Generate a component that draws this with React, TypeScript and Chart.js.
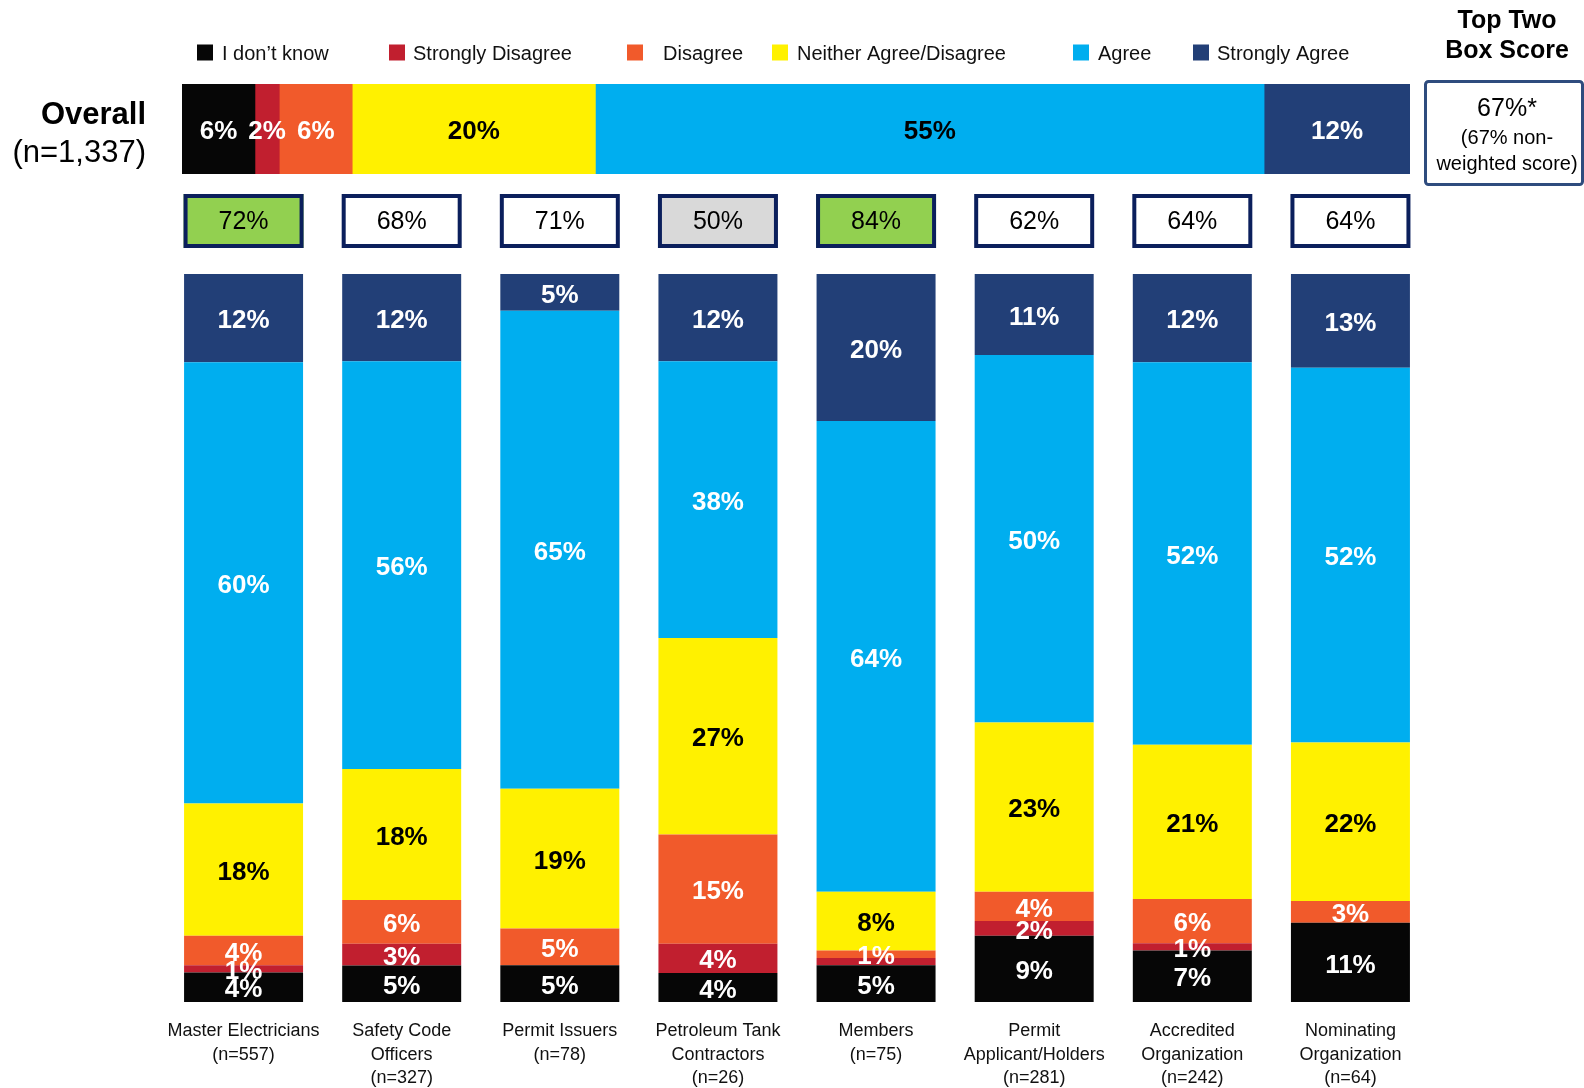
import React, { useEffect, useRef } from "react";
import { Chart, registerables } from "chart.js";

Chart.register(...registerables);

const FONT = "'Liberation Sans', Arial, sans-serif";

// ---- data ----
const seriesNames = [
  "I don\u2019t know",
  "Strongly Disagree",
  "Disagree",
  "Neither Agree/Disagree",
  "Agree",
  "Strongly Agree",
];
const seriesColors = ["#060606", "#c11f2f", "#f15a2b", "#fff100", "#00aeef", "#223f77"];
const columnLabelColors = ["#ffffff", "#ffffff", "#ffffff", "#000000", "#ffffff", "#ffffff"];
const overallLabelColors = ["#ffffff", "#ffffff", "#ffffff", "#000000", "#000000", "#ffffff"];

const categories = [
  ["Master Electricians", "(n=557)"],
  ["Safety Code", "Officers", "(n=327)"],
  ["Permit Issuers", "(n=78)"],
  ["Petroleum Tank", "Contractors", "(n=26)"],
  ["Members", "(n=75)"],
  ["Permit", "Applicant/Holders", "(n=281)"],
  ["Accredited", "Organization", "(n=242)"],
  ["Nominating", "Organization", "(n=64)"],
];

const dontKnow = [4, 5, 5, 4, 5, 9, 7, 11];
const stronglyDisagree = [1, 3, 0, 4, 1, 2, 1, 0];
const disagree = [4, 6, 5, 15, 1, 4, 6, 3];
const neither = [18, 18, 19, 27, 8, 23, 21, 22];
const agree = [60, 56, 65, 38, 64, 50, 52, 52];
const stronglyAgree = [12, 12, 5, 12, 20, 11, 12, 13];

const overallTitle = "Overall";
const overallN = "(n=1,337)";
const overallValues = [6, 2, 6, 20, 55, 12];

const topTwoScores = [72, 68, 71, 50, 84, 62, 64, 64];
const topTwoBand = ["above", "par", "par", "below", "above", "par", "par", "par"];
const bandFill: Record<string, string> = { above: "#92d050", par: "#ffffff", below: "#d9d9d9" };

const topTwoTitle = ["Top Two", "Box Score"];
const overallTopTwo = "67%*";
const overallTopTwoNote = ["(67% non-", "weighted score)"];

// labels not shown (series index, category index)
const hiddenLabels = [[1, 4]];

const columnSeries = [dontKnow, stronglyDisagree, disagree, neither, agree, stronglyAgree];

function totalsOf(series: number[][]) {
  return series[0].map((_, c) => series.reduce((s, arr) => s + arr[c], 0));
}

const labelPlugin = (colors: string[], hidden: number[][]) => ({
  id: "segLabels",
  afterDatasetsDraw(chart: any) {
    const ctx = chart.ctx;
    ctx.save();
    ctx.font = `bold 26px ${FONT}`;
    ctx.textAlign = "center";
    ctx.textBaseline = "middle";
    chart.data.datasets.forEach((ds: any, i: number) => {
      const meta = chart.getDatasetMeta(i);
      meta.data.forEach((el: any, j: number) => {
        const raw = ds.raw[j];
        if (!raw) return;
        if (hidden.some((h) => h[0] === i && h[1] === j)) return;
        const p = el.getCenterPoint();
        ctx.fillStyle = colors[i];
        ctx.fillText(raw + "%", p.x, p.y + 3);
      });
    });
    ctx.restore();
  },
});

const decorPlugin = {
  id: "decor",
  afterDraw(chart: any) {
    const ctx = chart.ctx;
    ctx.save();
    // legend
    const sq = [197, 389, 627, 772, 1073, 1193];
    const tx = [222, 413, 663, 797, 1098, 1217];
    ctx.font = `20px ${FONT}`;
    ctx.textBaseline = "middle";
    ctx.textAlign = "left";
    seriesNames.forEach((n, i) => {
      ctx.fillStyle = seriesColors[i];
      ctx.fillRect(sq[i], 44.5, 16, 16);
      ctx.fillStyle = "#111";
      ctx.fillText(n, tx[i], 54);
    });
    // top two title
    ctx.font = `bold 25px ${FONT}`;
    ctx.textAlign = "center";
    ctx.fillStyle = "#000";
    ctx.fillText(topTwoTitle[0], 1507, 21);
    ctx.fillText(topTwoTitle[1], 1507, 51);
    // overall title
    ctx.textAlign = "right";
    ctx.font = `bold 31px ${FONT}`;
    ctx.fillText(overallTitle, 146, 115);
    ctx.font = `31px ${FONT}`;
    ctx.fillText(overallN, 146, 153);
    // overall top two box
    ctx.strokeStyle = "#2f4c7e";
    ctx.lineWidth = 3;
    ctx.beginPath();
    ctx.roundRect(1425.5, 81.5, 157, 103, 3);
    ctx.stroke();
    ctx.textAlign = "center";
    ctx.fillStyle = "#000";
    ctx.font = `25px ${FONT}`;
    ctx.fillText(overallTopTwo, 1507, 109);
    ctx.font = `20px ${FONT}`;
    ctx.fillText(overallTopTwoNote[0], 1507, 138);
    ctx.fillText(overallTopTwoNote[1], 1507, 164);
    // small boxes
    const xs = chart.scales.x;
    topTwoScores.forEach((v, i) => {
      const cx = xs.getPixelForValue(i);
      const w = 120;
      const x0 = cx - w / 2;
      ctx.fillStyle = bandFill[topTwoBand[i]];
      ctx.fillRect(x0, 194, w, 54);
      ctx.strokeStyle = "#0b1f5c";
      ctx.lineWidth = 4;
      ctx.strokeRect(x0 + 2, 196, w - 4, 50);
      ctx.fillStyle = "#000";
      ctx.font = `25px ${FONT}`;
      ctx.fillText(v + "%", cx, 222.5);
    });
    ctx.restore();
  },
};

export default function App() {
  const mainRef = useRef<HTMLCanvasElement>(null);
  const overallRef = useRef<HTMLCanvasElement>(null);

  useEffect(() => {
    Chart.defaults.font.family = FONT;
    const totals = totalsOf(columnSeries);
    const main = new Chart(mainRef.current!, {
      type: "bar",
      data: {
        labels: categories,
        datasets: columnSeries.map((vals, s) => ({
          label: seriesNames[s],
          data: vals.map((v, c) => (v / totals[c]) * 100),
          raw: vals,
          backgroundColor: seriesColors[s],
          borderWidth: 0,
          barPercentage: 0.7525,
          categoryPercentage: 1,
        })) as any,
      },
      options: {
        responsive: false,
        animation: false,
        layout: { padding: { left: 164.5, right: 154.5, top: 274, bottom: 0 } },
        plugins: { legend: { display: false }, tooltip: { enabled: false } },
        scales: {
          x: {
            stacked: true,
            grid: { display: false, drawTicks: false },
            border: { display: false },
            ticks: {
              padding: 17,
              color: "#111",
              font: { size: 18, lineHeight: 1.32, family: FONT },
              maxRotation: 0,
              autoSkip: false,
            },
            afterFit: (scale: any) => {
              scale.height = 86;
            },
          },
          y: { stacked: true, display: false, min: 0, max: 100 },
        },
      },
      plugins: [labelPlugin(columnLabelColors, hiddenLabels), decorPlugin],
    });

    const overallTotal = overallValues.reduce((a, b) => a + b, 0);
    const overall = new Chart(overallRef.current!, {
      type: "bar",
      data: {
        labels: [overallTitle],
        datasets: overallValues.map((v, s) => ({
          label: seriesNames[s],
          data: [(v / overallTotal) * 100],
          raw: [v],
          backgroundColor: seriesColors[s],
          borderWidth: 0,
          barPercentage: 1,
          categoryPercentage: 1,
        })) as any,
      },
      options: {
        indexAxis: "y",
        responsive: false,
        animation: false,
        layout: { padding: 0 },
        plugins: { legend: { display: false }, tooltip: { enabled: false } },
        scales: {
          x: { stacked: true, display: false, min: 0, max: 100 },
          y: { stacked: true, display: false },
        },
      },
      plugins: [labelPlugin(overallLabelColors, [])],
    });

    return () => {
      main.destroy();
      overall.destroy();
    };
  }, []);

  return (
    <div style={{ position: "absolute", left: 0, top: 0, width: 1584, height: 1088, background: "#fff", overflow: "hidden" }}>
      <canvas ref={mainRef} width={1584} height={1088} style={{ position: "absolute", left: 0, top: 0, width: 1584, height: 1088 }} />
      <canvas ref={overallRef} width={1228} height={90} style={{ position: "absolute", left: 182, top: 84, width: 1228, height: 90 }} />
    </div>
  );
}
